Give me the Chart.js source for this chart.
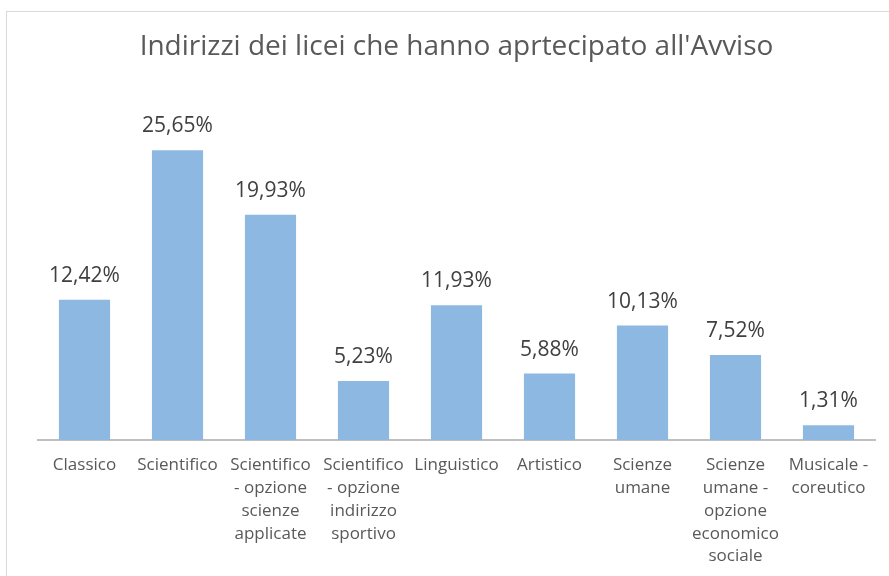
<!DOCTYPE html>
<html>
<head>
  <meta charset="UTF-8">
  <title>Indirizzi dei licei</title>
  <script src="https://cdn.jsdelivr.net/npm/chart.js"></script>
  <style>
    html, body { margin: 0; padding: 0; background: #fff; }
    #wrap { position: relative; width: 889px; height: 576px; overflow: hidden; }
    #frame { position: absolute; left: 6px; top: 11px; width: 900px; height: 600px; border: 1px solid #d9d9d9; }
    #chart { position: absolute; left: 0; top: 0; }
  </style>
</head>
<body>
  <div id="wrap">
    <div id="frame"></div>
    <canvas id="chart" width="889" height="576"></canvas>
  </div>

  <script>
    const categories = [
      'Classico',
      'Scientifico',
      ['Scientifico', '- opzione', 'scienze', 'applicate'],
      ['Scientifico', '- opzione', 'indirizzo', 'sportivo'],
      'Linguistico',
      'Artistico',
      ['Scienze', 'umane'],
      ['Scienze', 'umane -', 'opzione', 'economico', 'sociale'],
      ['Musicale -', 'coreutico']
    ];
    const values = [12.42, 25.65, 19.93, 5.23, 11.93, 5.88, 10.13, 7.52, 1.31];
    const valueLabels = ['12,42%', '25,65%', '19,93%', '5,23%', '11,93%', '5,88%', '10,13%', '7,52%', '1,31%'];

    const FONT = "'Open Sans', sans-serif";

    // draws the percentage above each bar
    const barLabels = {
      id: 'barLabels',
      afterDatasetsDraw(chart) {
        const ctx = chart.ctx;
        const meta = chart.getDatasetMeta(0);
        ctx.save();
        ctx.font = '21px ' + FONT;
        ctx.fillStyle = '#404040';
        ctx.textAlign = 'center';
        ctx.textBaseline = 'alphabetic';
        meta.data.forEach((bar, i) => {
          ctx.fillText(valueLabels[i], bar.x, bar.y - 18);
        });
        ctx.restore();
      }
    };

    new Chart(document.getElementById('chart'), {
      type: 'bar',
      data: {
        labels: categories,
        datasets: [{
          data: values,
          backgroundColor: '#8db8e2',
          categoryPercentage: 1,
          barPercentage: 0.55
        }]
      },
      options: {
        responsive: false,
        animation: false,
        layout: { padding: { left: 38, right: 14, top: 0, bottom: 0 } },
        plugins: {
          legend: { display: false },
          tooltip: { enabled: false },
          title: {
            display: true,
            text: "Indirizzi dei licei che hanno aprtecipato all'Avviso",
            color: '#595959',
            font: { family: FONT, size: 28, weight: 'normal', lineHeight: 1.2 },
            padding: { top: 30, bottom: 37.4 }
          }
        },
        scales: {
          y: { display: false, min: 0, max: 30 },
          x: {
            grid: { display: false, drawTicks: false },
            border: { display: true, color: '#bfbfbf', width: 2 },
            ticks: {
              color: '#595959',
              font: { family: FONT, size: 17, lineHeight: 1.34 },
              padding: 14,
              autoSkip: false,
              maxRotation: 0
            },
            afterFit(scale) { scale.height = 136; }
          }
        }
      },
      plugins: [barLabels]
    });
  </script>
</body>
</html>
